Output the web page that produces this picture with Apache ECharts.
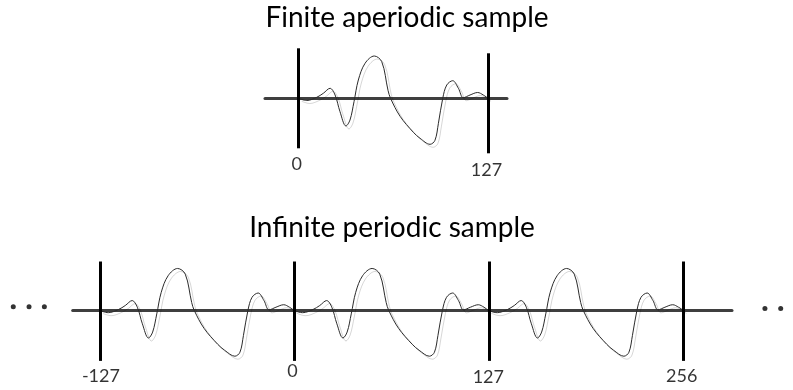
<!DOCTYPE html>
<html><head><meta charset="utf-8">
<script src="https://cdn.jsdelivr.net/npm/echarts@6/dist/echarts.min.js"></script>
<style>html,body{margin:0;padding:0;background:#fff}#c{width:793px;height:390px}</style>
</head><body><div id="c"></div>
<script>
const titles = ['Finite aperiodic sample', 'Infinite periodic sample'];
// one period of the waveform: sample index and amplitude
const waveSamples = [0, 5.4, 12.1, 16.5, 21, 24.4, 27.7, 31.7, 34.4, 37.1, 40, 44.5, 50.7, 55.7, 59.9, 61.6, 68, 76.9, 81.4, 88.1, 91.4, 93.7, 96.6, 99.3, 103.3, 107.1, 110.4, 114.9, 120, 123.8, 127];
const waveValues  = [0, -2.2, 1, 5, 10, 3.3, -13.4, -27.7, -21.7, -3.4, 18.3, 35, 42.3, 36.6, 8, 0, -18, -34, -40, -46, -42, -25, 0, 13.3, 17.6, 10, 0.6, 3.3, 5.8, 3.3, 0];
const period = 127;
const periodStarts = [-127, 0, 127];
// top chart markers
const topMarkers = [0, 127];
const topMarkerTops = [50, 45];
const topMarkerBottoms = [-50, -55];
const topTickX = [-1.3, 125.9];
const topTickY = [-65.7, -71.7];
const topTickText = ['0', '127'];
// bottom chart markers
const bottomMarkers = [-127, 0, 127, 254];
const bottomMarkerTops = [49.3, 49.3, 49.3, 49.3];
const bottomMarkerBottoms = [-50.7, -50.7, -50.7, -50.7];
const bottomTickX = [-126.4, -1.3, 126.6, 252.9];
const bottomTickY = [-66, -61.5, -67, -66.5];
const bottomTickText = ['-127', '0', '127', '256'];
// ellipsis dots
const ellipsisX = [-183.6, -173.3, -163.3, 307.2, 317.5];
const ellipsisY = [3.7, 3.7, 3.7, 2, 2];

const FONT = 'Lato';
const topWave = waveSamples.map((s, i) => [s, waveValues[i]]);
const bottomWave = [];
periodStarts.forEach((p, k) => {
  waveSamples.forEach((s, i) => {
    if (k > 0 && i === 0) return;
    bottomWave.push([p + s, waveValues[i]]);
  });
});

function marks(xs, tops, bottoms) {
  return xs.map((x, i) => [{coord: [x, tops[i]]}, {coord: [x, bottoms[i]]}]);
}
function ticks(xs, ys, texts) {
  return xs.map((x, i) => ({value: [x, ys[i]], name: texts[i]}));
}
const waveStyle = {
  color: '#2b2b2b', width: 1,
  shadowColor: 'rgba(0,0,0,0.16)', shadowOffsetX: 3, shadowOffsetY: 3, shadowBlur: 0
};
const markStyle = {
  silent: true, symbol: ['none', 'none'], label: {show: false},
  lineStyle: {color: '#000', width: 3, type: 'solid'}, animation: false
};
const xAxisBase = {
  type: 'value', axisTick: {show: false}, axisLabel: {show: false}, splitLine: {show: false},
  axisLine: {show: true, onZero: true, lineStyle: {color: '#3f3f3f', width: 3}}
};
const yAxisBase = {type: 'value', min: -80, max: 80, show: false, splitLine: {show: false}};
const labelSeries = (gi, data) => ({
  type: 'scatter', xAxisIndex: gi, yAxisIndex: gi, symbolSize: 0, clip: false, silent: true,
  data: data,
  label: {show: true, position: 'inside', formatter: '{b}', color: '#000', fontFamily: FONT, fontSize: 18}
});
const titleStyle = {fontFamily: FONT, fontSize: 28, fontWeight: 'normal', color: '#000'};

const chart = echarts.init(document.getElementById('c'), null, {renderer: 'canvas'});
chart.setOption({
  animation: false,
  backgroundColor: '#fff',
  title: [
    {text: titles[0], left: 402, top: -1, textAlign: 'center', textStyle: titleStyle},
    {text: titles[1], left: 387, top: 209, textAlign: 'center', textStyle: titleStyle}
  ],
  grid: [
    {left: 265, width: 242, top: 18.3, height: 160},
    {left: 72.7, width: 659.3, top: 231, height: 160}
  ],
  xAxis: [
    Object.assign({}, xAxisBase, {gridIndex: 0, min: -22.6, max: 139.7}),
    Object.assign({}, xAxisBase, {gridIndex: 1, min: -144.8, max: 285.7})
  ],
  yAxis: [
    Object.assign({}, yAxisBase, {gridIndex: 0}),
    Object.assign({}, yAxisBase, {gridIndex: 1})
  ],
  series: [
    {type: 'line', xAxisIndex: 0, yAxisIndex: 0, data: topWave, showSymbol: false, smooth: 0.35,
     lineStyle: waveStyle, z: 1,
     markLine: Object.assign({data: marks(topMarkers, topMarkerTops, topMarkerBottoms)}, markStyle)},
    {type: 'line', xAxisIndex: 1, yAxisIndex: 1, data: bottomWave, showSymbol: false, smooth: 0.35,
     lineStyle: waveStyle, z: 1,
     markLine: Object.assign({data: marks(bottomMarkers, bottomMarkerTops, bottomMarkerBottoms)}, markStyle)},
    labelSeries(0, ticks(topTickX, topTickY, topTickText)),
    labelSeries(1, ticks(bottomTickX, bottomTickY, bottomTickText)),
    {type: 'scatter', xAxisIndex: 1, yAxisIndex: 1, clip: false, silent: true, symbolSize: 5,
     itemStyle: {color: '#000'}, data: ellipsisX.map((x, i) => [x, ellipsisY[i]])}
  ]
});
</script></body></html>
